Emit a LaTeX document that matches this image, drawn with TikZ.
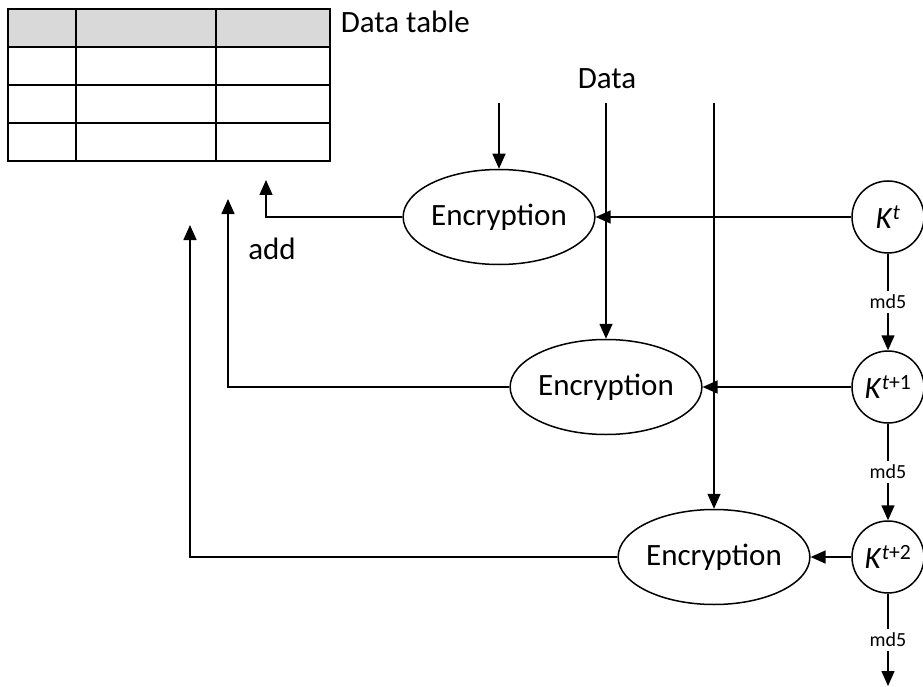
\documentclass[tikz,border=0pt]{standalone}
\usepackage{fontspec}
\setmainfont{Carlito}
\usetikzlibrary{arrows.meta,shapes.geometric}
\definecolor{hdr}{RGB}{217,217,217}
\begin{document}
\begin{tikzpicture}[x=1pt,y=-1pt, line width=1.5pt,
  arr/.style={-{Triangle[length=15pt,width=13pt]}},
  enc/.style={ellipse, draw, minimum width=161pt, minimum height=95pt, inner sep=0pt, font=\fontsize{31}{37}\selectfont},
  keynode/.style={circle, draw, minimum size=72pt, inner sep=0pt, font=\fontsize{31}{37}\selectfont},
  lbl/.style={font=\fontsize{31}{37}\selectfont, inner sep=0pt},
  md/.style={font=\fontsize{20}{24}\selectfont, fill=white, inner sep=4pt}]
\useasboundingbox (0,0) rectangle (923,687);
% data table
\fill[hdr] (8,9) rectangle (330,47);
\draw (8,9) rectangle (330,161);
\draw (8,47) -- (330,47) (8,85) -- (330,85) (8,123) -- (330,123);
\draw (76,9) -- (76,161) (216,9) -- (216,161);
\node[lbl, anchor=west] (tbl) at (340,22) {Data table};
% labels
\node[lbl] (data) at (607,79) {Data};
\node[lbl] (add) at (272,249) {add};
% encryption nodes
\node[enc] (e1) at (499,217) {Encryption};
\node[enc] (e2) at (606,387) {Encryption};
\node[enc] (e3) at (714,557) {Encryption};
% keys
\node[keynode] (k1) at (888,217) {\textit{K}\textsuperscript{\textit{t}}};
\node[keynode] (k2) at (888,387) {\textit{K}\textsuperscript{\textit{t}+1}};
\node[keynode] (k3) at (888,557) {\textit{K}\textsuperscript{\textit{t}+2}};
\coordinate (kend) at (888,686);
% data inputs
\coordinate (d1) at (499,103);
\coordinate (d2) at (606,103);
\coordinate (d3) at (714,103);
\draw[arr] (d1) -- (e1.north);
\draw[arr] (d2) -- (e2.north);
\draw[arr] (d3) -- (e3.north);
% keys to encryption
\draw[arr] (k1.west) -- (e1.east);
\draw[arr] (k2.west) -- (e2.east);
\draw[arr] (k3.west) -- (e3.east);
% md5 chain
\draw[arr] (k1.south) -- node[md] {md5} (k2.north);
\draw[arr] (k2.south) -- node[md] {md5} (k3.north);
\draw[arr] (k3.south) -- node[md] {md5} (kend);
% outputs to table
\coordinate (o1) at (266,180);
\coordinate (o2) at (228,199);
\coordinate (o3) at (190,225);
\draw[arr] (e1.west) -| (o1);
\draw[arr] (e2.west) -| (o2);
\draw[arr] (e3.west) -| (o3);
\end{tikzpicture}
\end{document}
